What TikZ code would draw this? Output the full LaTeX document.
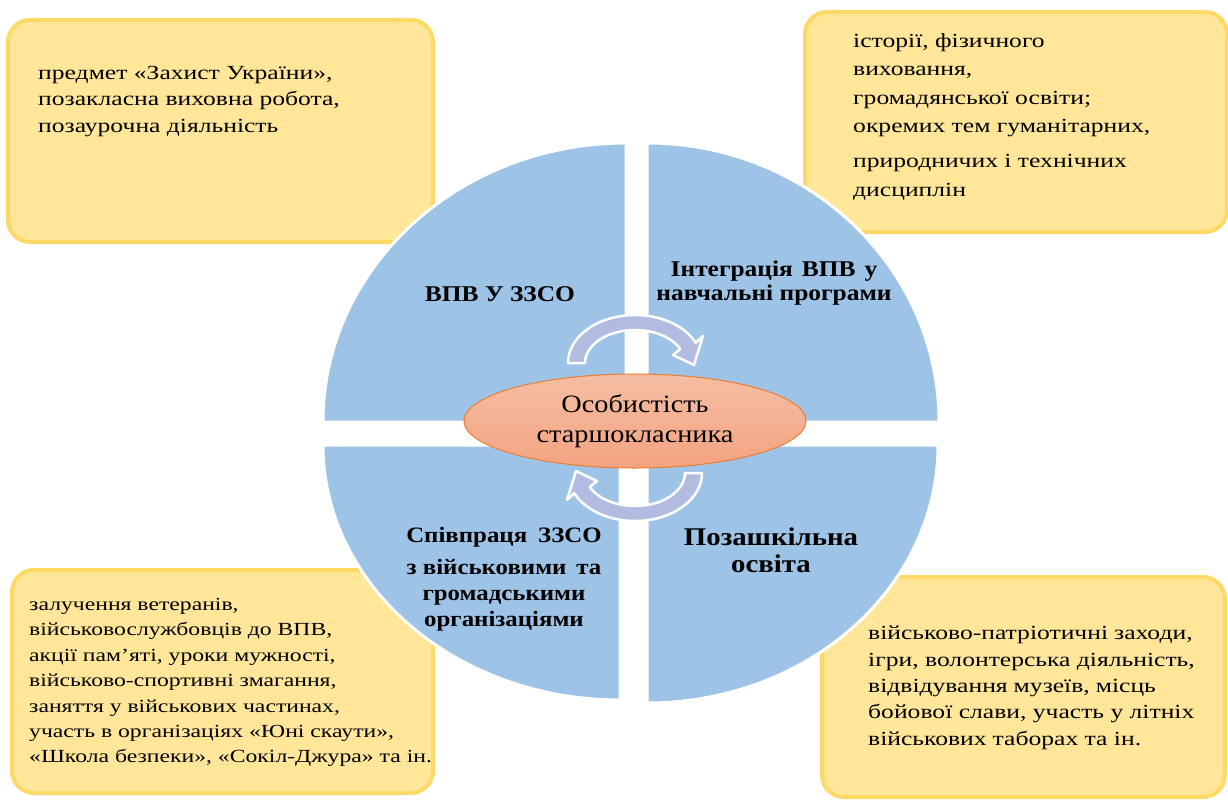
\documentclass[tikz,border=0pt]{standalone}
\usepackage{fontspec}
\setmainfont{Liberation Serif}
\newfontfamily\notefont{Liberation Serif}[FakeStretch=1.28]
\newfontfamily\headfont{Liberation Serif}[FakeStretch=1.13]
\usetikzlibrary{positioning, shapes.geometric}

\definecolor{quadblue}{RGB}{157,195,230}
\definecolor{notefill}{RGB}{255,230,153}
\definecolor{noteedge}{RGB}{255,217,102}
\definecolor{turnfill}{RGB}{178,188,224}
\definecolor{coretop}{RGB}{245,190,165}
\definecolor{corebot}{RGB}{244,163,128}
\definecolor{coreedge}{RGB}{237,125,49}

\begin{document}
\begin{tikzpicture}[x=1pt, y=-1pt,
    note/.style={draw=noteedge, fill=notefill, line width=4pt, rounded corners=22pt, outer sep=0pt},
    notetext/.style={inner sep=0pt, align=left, font=\notefont\fontsize{20}{26.3}\selectfont},
    quad/.style={draw=white, fill=quadblue, line width=3pt},
    quadtext/.style={align=center, font=\headfont\bfseries\fontsize{22}{26}\selectfont},
    turn/.style={draw=white, fill=turnfill, line width=2.5pt, line join=round}]

    \useasboundingbox (0,0) rectangle (1228,801);

    \node[note, minimum width=425, minimum height=222] (boxTL) at (220.5,131) {};
    \node[note, minimum width=422, minimum height=220] (boxTR) at (1016,122) {};
    \node[note, minimum width=421, minimum height=223] (boxBL) at (222.5,681.5) {};
    \node[note, minimum width=403, minimum height=220] (boxBR) at (1023.5,687) {};

    \path[quad] (323,422) arc[start angle=180, end angle=270, x radius=303, y radius=279] -- (626,422) -- cycle;
    \path[quad] (647,143) arc[start angle=270, end angle=360, x radius=292, y radius=279] -- (647,422) -- cycle;
    \path[quad] (938,445) arc[start angle=0, end angle=90, x radius=291, y radius=258] -- (647,445) -- cycle;
    \path[quad] (620,700) arc[start angle=90, end angle=180, x radius=297, y radius=255] -- (620,445) -- cycle;

    \begin{scope}[shift={(635,363)}]
        \path[turn] (180:67 and 48) arc[start angle=180, end angle=335, x radius=67, y radius=48]
            -- (68,-27) -- (59,2) -- (38,-8) -- (335:50 and 33)
            arc[start angle=335, end angle=180, x radius=50, y radius=33] -- cycle;
    \end{scope}
    \begin{scope}[shift={(635,473)}, rotate=180]
        \path[turn] (180:67 and 48) arc[start angle=180, end angle=335, x radius=67, y radius=48]
            -- (68,-27) -- (59,2) -- (38,-8) -- (335:50 and 33)
            arc[start angle=335, end angle=180, x radius=50, y radius=33] -- cycle;
    \end{scope}

    \node[ellipse, draw=coreedge, line width=1pt, top color=coretop, bottom color=corebot,
          minimum width=342, minimum height=94, align=center,
          font=\headfont\fontsize{25}{30}\selectfont] (core) at (635,421) {Особистість\\старшокласника};

    \node[quadtext, font=\headfont\bfseries\fontsize{22.5}{26}\selectfont] (qTL) at (500,294) {ВПВ У ЗЗСО};
    \node[quadtext, font=\headfont\bfseries\fontsize{22.5}{24}\selectfont] (qTR) at (774,283)
        {Інтеграція\hspace{0.4em}ВПВ\hspace{0.4em}у\\навчальні програми};
    \node[quadtext] (qBL) at (504,579)
        {Співпраця\hspace{0.5em}ЗЗСО\\[6pt]з військовими\hspace{0.45em}та\\громадськими\\організаціями};
    \node[quadtext, font=\headfont\bfseries\fontsize{25.5}{27}\selectfont] (qBR) at (771,550) {Позашкільна\\освіта};

    \node[notetext, below right=46pt and 30pt of boxTL.north west] (textTL)
        {предмет «Захист України»,\\позакласна виховна робота,\\позаурочна діяльність};
    \node[notetext, below right=21pt and 48pt of boxTR.north west, font=\notefont\fontsize{20}{28.6}\selectfont] (textTR)
        {історії, фізичного\\виховання,\\громадянської освіти;\\окремих тем гуманітарних,\\[6pt]природничих і технічних\\дисциплін};
    \node[notetext, below right=28pt and 17pt of boxBL.north west, font=\notefont\fontsize{18.5}{25.4}\selectfont] (textBL)
        {залучення ветеранів,\\військовослужбовців до ВПВ,\\акції пам’яті, уроки мужності,\\військово-спортивні змагання,\\заняття у військових частинах,\\участь в організаціях «Юні скаути»,\\«Школа безпеки», «Сокіл-Джура» та ін.};
    \node[notetext, below right=49pt and 46pt of boxBR.north west] (textBR)
        {військово-патріотичні\hspace{0.3em}заходи,\\ігри, волонтерська діяльність,\\відвідування\hspace{0.3em}музеїв,\hspace{0.3em}місць\\бойової слави, участь у літніх\\військових\hspace{0.3em}таборах та ін.};
\end{tikzpicture}
\end{document}
